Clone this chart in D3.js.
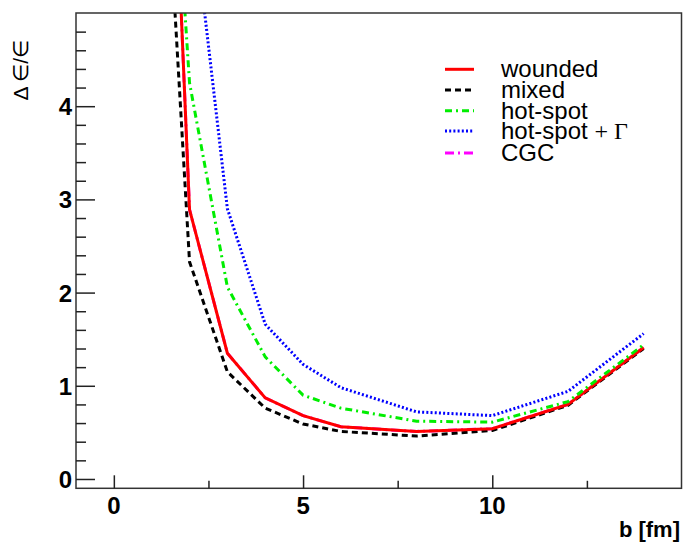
<!DOCTYPE html>
<html>
<head>
<meta charset="utf-8">
<script src="https://cdn.jsdelivr.net/npm/d3@7"></script>
<style>
  html, body { margin: 0; padding: 0; background: #fff; }
  svg { display: block; }
</style>
</head>
<body>
<svg id="chart" width="683" height="543"></svg>
<script>
// ---- data ----
const bValues   = [1, 2, 3, 4, 5, 6, 8, 10, 12, 14];
const wounded   = [12.5, 2.89, 1.35, 0.87, 0.68, 0.56, 0.51, 0.54, 0.80, 1.41];
const mixed     = [9.3, 2.33, 1.15, 0.76, 0.59, 0.51, 0.46, 0.52, 0.79, 1.40];
const hotSpot   = [10.5, 4.25, 2.06, 1.31, 0.90, 0.76, 0.62, 0.61, 0.83, 1.44];
const hotSpotG  = [20.0, 6.4, 2.90, 1.66, 1.23, 0.98, 0.72, 0.68, 0.94, 1.56];
const cgc       = [12.5, 2.89, 1.35, 0.87, 0.68, 0.56, 0.51, 0.54, 0.80, 1.41];
const seriesNames = ["wounded", "mixed", "hot-spot", "hot-spot + \u0393", "CGC"];
const xMajorTicks = [0, 5, 10];
const xMinorTicks = [2.5, 7.5, 12.5];
const yMajorTicks = [0, 1, 2, 3, 4];
const yMinorTicks = d3.range(0, 25).map(i => +(i * 0.2).toFixed(1)).filter(v => Math.abs(v - Math.round(v)) > 1e-6);

// ---- layout ----
const svg = d3.select("#chart");
const L = 76, R = 681.5, T = 13, B = 488.3;
const x = d3.scaleLinear().domain([-1, 15]).range([L, R]);
const y = d3.scaleLinear().domain([-0.1, 5]).range([B, T]);

svg.append("defs").append("clipPath").attr("id", "clip")
  .append("rect").attr("x", L).attr("y", T).attr("width", R - L).attr("height", B - T);

const styles = [
  { data: cgc,      color: "#ff00ff", dash: "9,4,2,4", width: 3 },
  { data: mixed,    color: "#000000", dash: "6,4",     width: 3 },
  { data: wounded,  color: "#ff0000", dash: null,      width: 3 },
  { data: hotSpot,  color: "#00ee00", dash: "7,4,2,4", width: 3 },
  { data: hotSpotG, color: "#0000ff", dash: "2,2.2",   width: 3 }
];

const line = d3.line().x(d => x(d[0])).y(d => y(d[1]));
const plot = svg.append("g").attr("clip-path", "url(#clip)");
styles.forEach(s => {
  plot.append("path")
    .datum(bValues.map((b, i) => [b, s.data[i]]))
    .attr("d", line)
    .attr("fill", "none")
    .attr("stroke", s.color)
    .attr("stroke-width", s.width)
    .attr("stroke-dasharray", s.dash)
    .attr("stroke-linejoin", "miter");
});

// ---- frame ----
svg.append("rect").attr("x", L).attr("y", T).attr("width", R - L).attr("height", B - T)
  .attr("fill", "none").attr("stroke", "#333").attr("stroke-width", 1.5);

// ---- axes (ROOT style, ticks inside) ----
const xAxisMajor = d3.axisTop(x).tickValues(xMajorTicks).tickSize(13).tickFormat("");
const xAxisMinor = d3.axisTop(x).tickValues(xMinorTicks).tickSize(7.5).tickFormat("");
const gx1 = svg.append("g").attr("transform", `translate(0,${B})`).call(xAxisMajor);
const gx2 = svg.append("g").attr("transform", `translate(0,${B})`).call(xAxisMinor);
[gx1, gx2].forEach(g => { g.select(".domain").remove(); g.selectAll("line").attr("stroke", "#222").attr("stroke-width", 1.5); });

const yAxisMajor = d3.axisRight(y).tickValues(yMajorTicks).tickSize(19).tickFormat("");
const yAxisMinor = d3.axisRight(y).tickValues(yMinorTicks).tickSize(10).tickFormat("");
const gy1 = svg.append("g").attr("transform", `translate(${L},0)`).call(yAxisMajor);
const gy2 = svg.append("g").attr("transform", `translate(${L},0)`).call(yAxisMinor);
[gy1, gy2].forEach(g => { g.select(".domain").remove(); g.selectAll("line").attr("stroke", "#222").attr("stroke-width", 1.5); });

// tick labels
svg.append("g").selectAll("text").data(xMajorTicks).join("text")
  .attr("x", d => x(d)).attr("y", 514)
  .attr("text-anchor", "middle")
  .attr("font-family", "Liberation Sans, Arial, sans-serif")
  .attr("font-weight", "bold").attr("font-size", 24)
  .text(d => d);
svg.append("g").selectAll("text").data(yMajorTicks).join("text")
  .attr("x", 72).attr("y", d => y(d) + 9)
  .attr("text-anchor", "end")
  .attr("font-family", "Liberation Sans, Arial, sans-serif")
  .attr("font-weight", "bold").attr("font-size", 24)
  .text(d => d);

// axis titles
svg.append("text").attr("x", 680).attr("y", 536.5)
  .attr("text-anchor", "end")
  .attr("font-family", "Liberation Sans, Arial, sans-serif")
  .attr("font-weight", "bold").attr("font-size", 22)
  .text("b [fm]");
svg.append("text").attr("transform", "translate(28,40) rotate(-90)")
  .attr("text-anchor", "end")
  .attr("font-family", "Liberation Sans, Arial, sans-serif")
  .attr("font-size", 21)
  .text("\u0394 \u2208/\u2208");

// ---- legend ----
const legendRows = [69.3, 90, 110.7, 131, 153];
const legendOrder = [
  { name: seriesNames[0], s: styles[2] },
  { name: seriesNames[1], s: styles[1] },
  { name: seriesNames[2], s: styles[3] },
  { name: seriesNames[3], s: styles[4] },
  { name: seriesNames[4], s: styles[0] }
];
const lg = svg.append("g");
legendOrder.forEach((item, i) => {
  const yy = legendRows[i];
  lg.append("line").attr("x1", 445).attr("x2", 474).attr("y1", yy).attr("y2", yy)
    .attr("stroke", item.s.color).attr("stroke-width", item.s.width)
    .attr("stroke-dasharray", item.s.dash);
  const t = lg.append("text").attr("x", 501).attr("y", yy + 8)
    .attr("font-family", "Liberation Sans, Arial, sans-serif")
    .attr("font-size", 24);
  if (i === 3) {
    t.append("tspan").text("hot-spot ");
    t.append("tspan").attr("font-family", "Liberation Serif, serif").text("+ \u0393");
  } else {
    t.text(item.name);
  }
});
</script>
</body>
</html>
